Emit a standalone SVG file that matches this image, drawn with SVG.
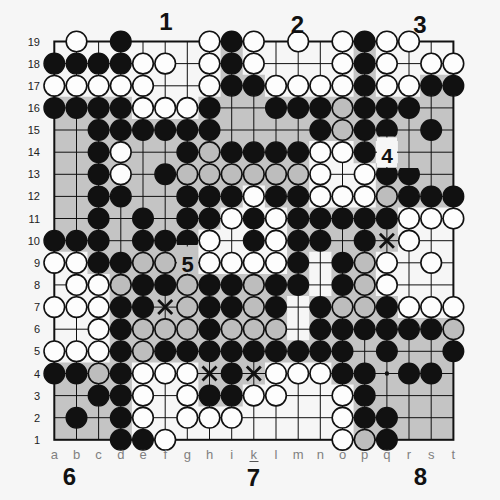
<svg xmlns="http://www.w3.org/2000/svg" width="500" height="500" viewBox="0 0 500 500">
<style>
.b{fill:#111;stroke:#111;stroke-width:1.4}
.w{fill:#fdfdfd;stroke:#111;stroke-width:1.6}
.g{fill:#bdbdbd;stroke:#111;stroke-width:1.6}
.grid{stroke:#111;stroke-width:1;fill:none}
.rn{font-family:"Liberation Sans",Arial,sans-serif;font-size:11px;fill:#222;text-anchor:end}
.cl{font-family:"Liberation Sans",Arial,sans-serif;font-size:13px;fill:#808080;text-anchor:middle}
.big{font-family:"Liberation Sans",Arial,sans-serif;font-weight:bold;fill:#111;text-anchor:middle}
.x{stroke:#111;stroke-width:2.8;fill:none}
</style>
<defs>
<clipPath id="cTop15"><rect x="370" y="110" width="35" height="26.5"/></clipPath>
<clipPath id="cTop10"><rect x="170" y="220" width="35" height="25"/></clipPath>
<clipPath id="cBot13"><rect x="370" y="168" width="55" height="20"/></clipPath>
</defs>
<rect x="0" y="0" width="500" height="500" fill="#f6f6f6"/>
<g id="shading">
<path fill="#c4c4c4" d="M220.6 41.5H242.7V96.8H220.6Z M242.7 74.7H264.9V96.8H242.7Z M353.6 41.5H375.8V96.8H353.6Z M420.1 74.7H453.4V96.8H420.1Z
M54.3 96.8H131.9V119H54.3Z M198.4 96.8H453.4V119H198.4Z
M54.3 119H453.4V141.1H54.3Z
M54.3 141.1H309.2V185.4H54.3Z M353.6 141.1H375.8V163.2H353.6Z M397.9 141.1H453.4V163.2H397.9Z M375.8 163.2H453.4V207.5H375.8Z
M54.3 185.4H242.7V207.5H54.3Z M264.9 185.4H309.2V207.5H264.9Z
M54.3 207.5H220.6V229.6H54.3Z M287.1 207.5H397.9V251.7H287.1Z
M54.3 229.6H198.4V251.7H54.3Z
M87.5 251.7H198.4V273.9H87.5Z M287.1 251.7H309.2V273.9H287.1Z M331.4 251.7H375.8V296H331.4Z
M109.7 273.9H309.2V296H109.7Z
M109.7 296H287.1V340.3H109.7Z M309.2 296H397.9V318.1H309.2Z M309.2 318.1H453.4V340.3H309.2Z
M109.7 340.3H453.4V362.4H109.7Z
M54.3 362.4H131.9V439.8H54.3Z M198.4 362.4H264.9V384.5H198.4Z M331.4 362.4H453.4V384.5H331.4Z
M198.4 384.5H242.7V406.6H198.4Z M353.6 384.5H453.4V439.8H353.6Z"/>
</g>
<g id="grid" class="grid">
<path d="M76.5 41.5V439.8M98.6 41.5V439.8M120.8 41.5V439.8M143 41.5V439.8M165.2 41.5V439.8M187.3 41.5V439.8M209.5 41.5V439.8M231.7 41.5V439.8M253.8 41.5V439.8M276 41.5V439.8M298.2 41.5V439.8M320.3 41.5V439.8M342.5 41.5V439.8M364.7 41.5V439.8M386.9 41.5V439.8M409 41.5V439.8M431.2 41.5V439.8
M54.3 63.6H453.4M54.3 85.8H453.4M54.3 107.9H453.4M54.3 130H453.4M54.3 152.2H453.4M54.3 174.3H453.4M54.3 196.4H453.4M54.3 218.5H453.4M54.3 240.7H453.4M54.3 262.8H453.4M54.3 284.9H453.4M54.3 307.1H453.4M54.3 329.2H453.4M54.3 351.3H453.4M54.3 373.5H453.4M54.3 395.6H453.4M54.3 417.7H453.4"/>
<rect x="54.3" y="41.5" width="399.1" height="398.3" stroke-width="2"/>
<circle cx="386.9" cy="373.5" r="2.2" fill="#111" stroke="none"/>
</g>
<g id="stones">
<!-- 19 -->
<circle class="w" cx="76.5" cy="41.5" r="10.3"/><circle class="b" cx="120.8" cy="41.5" r="10.3"/><circle class="w" cx="209.5" cy="41.5" r="10.3"/><circle class="b" cx="231.7" cy="41.5" r="10.3"/><circle class="w" cx="253.8" cy="41.5" r="10.3"/><circle class="w" cx="298.2" cy="41.5" r="10.3"/><circle class="w" cx="342.5" cy="41.5" r="10.3"/><circle class="b" cx="364.7" cy="41.5" r="10.3"/><circle class="w" cx="386.9" cy="41.5" r="10.3"/><circle class="w" cx="409" cy="41.5" r="10.3"/>
<!-- 18 -->
<circle class="b" cx="54.3" cy="63.6" r="10.3"/><circle class="b" cx="76.5" cy="63.6" r="10.3"/><circle class="b" cx="98.6" cy="63.6" r="10.3"/><circle class="b" cx="120.8" cy="63.6" r="10.3"/><circle class="w" cx="143" cy="63.6" r="10.3"/><circle class="w" cx="165.2" cy="63.6" r="10.3"/><circle class="w" cx="209.5" cy="63.6" r="10.3"/><circle class="b" cx="231.7" cy="63.6" r="10.3"/><circle class="w" cx="253.8" cy="63.6" r="10.3"/><circle class="w" cx="342.5" cy="63.6" r="10.3"/><circle class="b" cx="364.7" cy="63.6" r="10.3"/><circle class="w" cx="386.9" cy="63.6" r="10.3"/><circle class="w" cx="431.2" cy="63.6" r="10.3"/><circle class="w" cx="453.4" cy="63.6" r="10.3"/>
<!-- 17 -->
<circle class="w" cx="54.3" cy="85.8" r="10.3"/><circle class="w" cx="76.5" cy="85.8" r="10.3"/><circle class="w" cx="98.6" cy="85.8" r="10.3"/><circle class="w" cx="120.8" cy="85.8" r="10.3"/><circle class="w" cx="143" cy="85.8" r="10.3"/><circle class="w" cx="209.5" cy="85.8" r="10.3"/><circle class="b" cx="231.7" cy="85.8" r="10.3"/><circle class="b" cx="253.8" cy="85.8" r="10.3"/><circle class="w" cx="276" cy="85.8" r="10.3"/><circle class="w" cx="298.2" cy="85.8" r="10.3"/><circle class="w" cx="320.3" cy="85.8" r="10.3"/><circle class="w" cx="342.5" cy="85.8" r="10.3"/><circle class="b" cx="364.7" cy="85.8" r="10.3"/><circle class="w" cx="386.9" cy="85.8" r="10.3"/><circle class="w" cx="409" cy="85.8" r="10.3"/><circle class="b" cx="431.2" cy="85.8" r="10.3"/><circle class="b" cx="453.4" cy="85.8" r="10.3"/>
<!-- 16 -->
<circle class="b" cx="54.3" cy="107.9" r="10.3"/><circle class="b" cx="76.5" cy="107.9" r="10.3"/><circle class="b" cx="98.6" cy="107.9" r="10.3"/><circle class="b" cx="120.8" cy="107.9" r="10.3"/><circle class="w" cx="143" cy="107.9" r="10.3"/><circle class="w" cx="165.2" cy="107.9" r="10.3"/><circle class="w" cx="187.3" cy="107.9" r="10.3"/><circle class="b" cx="209.5" cy="107.9" r="10.3"/><circle class="b" cx="276" cy="107.9" r="10.3"/><circle class="b" cx="298.2" cy="107.9" r="10.3"/><circle class="b" cx="320.3" cy="107.9" r="10.3"/><circle class="g" cx="342.5" cy="107.9" r="10.3"/><circle class="b" cx="364.7" cy="107.9" r="10.3"/><circle class="b" cx="386.9" cy="107.9" r="10.3"/><circle class="b" cx="409" cy="107.9" r="10.3"/>
<!-- 15 -->
<circle class="b" cx="98.6" cy="130" r="10.3"/><circle class="b" cx="120.8" cy="130" r="10.3"/><circle class="b" cx="143" cy="130" r="10.3"/><circle class="b" cx="165.2" cy="130" r="10.3"/><circle class="b" cx="187.3" cy="130" r="10.3"/><circle class="b" cx="209.5" cy="130" r="10.3"/><circle class="b" cx="320.3" cy="130" r="10.3"/><circle class="g" cx="342.5" cy="130" r="10.3"/><circle class="b" cx="364.7" cy="130" r="10.3"/><circle class="b" cx="431.2" cy="130" r="10.3"/>
<!-- 14 -->
<circle class="b" cx="98.6" cy="152.2" r="10.3"/><circle class="w" cx="120.8" cy="152.2" r="10.3"/><circle class="b" cx="187.3" cy="152.2" r="10.3"/><circle class="g" cx="209.5" cy="152.2" r="10.3"/><circle class="b" cx="231.7" cy="152.2" r="10.3"/><circle class="b" cx="253.8" cy="152.2" r="10.3"/><circle class="b" cx="276" cy="152.2" r="10.3"/><circle class="b" cx="298.2" cy="152.2" r="10.3"/><circle class="w" cx="320.3" cy="152.2" r="10.3"/><circle class="w" cx="342.5" cy="152.2" r="10.3"/><circle class="b" cx="364.7" cy="152.2" r="10.3"/>
<!-- 13 -->
<circle class="b" cx="98.6" cy="174.3" r="10.3"/><circle class="w" cx="120.8" cy="174.3" r="10.3"/><circle class="b" cx="165.2" cy="174.3" r="10.3"/><circle class="g" cx="187.3" cy="174.3" r="10.3"/><circle class="g" cx="209.5" cy="174.3" r="10.3"/><circle class="g" cx="231.7" cy="174.3" r="10.3"/><circle class="g" cx="253.8" cy="174.3" r="10.3"/><circle class="g" cx="276" cy="174.3" r="10.3"/><circle class="g" cx="298.2" cy="174.3" r="10.3"/><circle class="w" cx="320.3" cy="174.3" r="10.3"/><circle class="w" cx="364.7" cy="174.3" r="10.3"/>
<!-- 12 -->
<circle class="b" cx="98.6" cy="196.4" r="10.3"/><circle class="b" cx="120.8" cy="196.4" r="10.3"/><circle class="b" cx="187.3" cy="196.4" r="10.3"/><circle class="b" cx="209.5" cy="196.4" r="10.3"/><circle class="b" cx="231.7" cy="196.4" r="10.3"/><circle class="w" cx="253.8" cy="196.4" r="10.3"/><circle class="b" cx="276" cy="196.4" r="10.3"/><circle class="b" cx="298.2" cy="196.4" r="10.3"/><circle class="w" cx="320.3" cy="196.4" r="10.3"/><circle class="w" cx="342.5" cy="196.4" r="10.3"/><circle class="w" cx="364.7" cy="196.4" r="10.3"/><circle class="g" cx="386.9" cy="196.4" r="10.3"/><circle class="b" cx="409" cy="196.4" r="10.3"/><circle class="b" cx="431.2" cy="196.4" r="10.3"/><circle class="b" cx="453.4" cy="196.4" r="10.3"/>
<!-- 11 -->
<circle class="b" cx="98.6" cy="218.5" r="10.3"/><circle class="b" cx="143" cy="218.5" r="10.3"/><circle class="b" cx="187.3" cy="218.5" r="10.3"/><circle class="b" cx="209.5" cy="218.5" r="10.3"/><circle class="w" cx="231.7" cy="218.5" r="10.3"/><circle class="b" cx="253.8" cy="218.5" r="10.3"/><circle class="w" cx="276" cy="218.5" r="10.3"/><circle class="b" cx="298.2" cy="218.5" r="10.3"/><circle class="b" cx="320.3" cy="218.5" r="10.3"/><circle class="b" cx="342.5" cy="218.5" r="10.3"/><circle class="b" cx="364.7" cy="218.5" r="10.3"/><circle class="b" cx="386.9" cy="218.5" r="10.3"/><circle class="w" cx="409" cy="218.5" r="10.3"/><circle class="w" cx="431.2" cy="218.5" r="10.3"/><circle class="w" cx="453.4" cy="218.5" r="10.3"/>
<!-- 10 -->
<circle class="b" cx="54.3" cy="240.7" r="10.3"/><circle class="b" cx="76.5" cy="240.7" r="10.3"/><circle class="b" cx="98.6" cy="240.7" r="10.3"/><circle class="b" cx="143" cy="240.7" r="10.3"/><circle class="b" cx="165.2" cy="240.7" r="10.3"/><circle class="w" cx="209.5" cy="240.7" r="10.3"/><circle class="b" cx="253.8" cy="240.7" r="10.3"/><circle class="w" cx="276" cy="240.7" r="10.3"/><circle class="b" cx="298.2" cy="240.7" r="10.3"/><circle class="b" cx="320.3" cy="240.7" r="10.3"/><circle class="b" cx="364.7" cy="240.7" r="10.3"/><circle class="w" cx="409" cy="240.7" r="10.3"/>
<!-- 9 -->
<circle class="w" cx="54.3" cy="262.8" r="10.3"/><circle class="w" cx="76.5" cy="262.8" r="10.3"/><circle class="b" cx="98.6" cy="262.8" r="10.3"/><circle class="b" cx="120.8" cy="262.8" r="10.3"/><circle class="g" cx="143" cy="262.8" r="10.3"/><circle class="g" cx="165.2" cy="262.8" r="10.3"/><circle class="w" cx="209.5" cy="262.8" r="10.3"/><circle class="w" cx="231.7" cy="262.8" r="10.3"/><circle class="w" cx="253.8" cy="262.8" r="10.3"/><circle class="w" cx="276" cy="262.8" r="10.3"/><circle class="b" cx="298.2" cy="262.8" r="10.3"/><circle class="b" cx="342.5" cy="262.8" r="10.3"/><circle class="g" cx="364.7" cy="262.8" r="10.3"/><circle class="w" cx="386.9" cy="262.8" r="10.3"/><circle class="w" cx="431.2" cy="262.8" r="10.3"/>
<!-- 8 -->
<circle class="w" cx="76.5" cy="284.9" r="10.3"/><circle class="w" cx="98.6" cy="284.9" r="10.3"/><circle class="g" cx="120.8" cy="284.9" r="10.3"/><circle class="b" cx="143" cy="284.9" r="10.3"/><circle class="b" cx="165.2" cy="284.9" r="10.3"/><circle class="g" cx="187.3" cy="284.9" r="10.3"/><circle class="b" cx="209.5" cy="284.9" r="10.3"/><circle class="b" cx="231.7" cy="284.9" r="10.3"/><circle class="g" cx="253.8" cy="284.9" r="10.3"/><circle class="b" cx="276" cy="284.9" r="10.3"/><circle class="b" cx="298.2" cy="284.9" r="10.3"/><circle class="b" cx="342.5" cy="284.9" r="10.3"/><circle class="g" cx="364.7" cy="284.9" r="10.3"/><circle class="w" cx="386.9" cy="284.9" r="10.3"/>
<!-- 7 -->
<circle class="w" cx="54.3" cy="307.1" r="10.3"/><circle class="w" cx="76.5" cy="307.1" r="10.3"/><circle class="w" cx="98.6" cy="307.1" r="10.3"/><circle class="b" cx="120.8" cy="307.1" r="10.3"/><circle class="b" cx="143" cy="307.1" r="10.3"/><circle class="g" cx="187.3" cy="307.1" r="10.3"/><circle class="b" cx="209.5" cy="307.1" r="10.3"/><circle class="b" cx="231.7" cy="307.1" r="10.3"/><circle class="g" cx="253.8" cy="307.1" r="10.3"/><circle class="b" cx="276" cy="307.1" r="10.3"/><circle class="b" cx="320.3" cy="307.1" r="10.3"/><circle class="g" cx="342.5" cy="307.1" r="10.3"/><circle class="g" cx="364.7" cy="307.1" r="10.3"/><circle class="b" cx="386.9" cy="307.1" r="10.3"/><circle class="w" cx="409" cy="307.1" r="10.3"/><circle class="w" cx="431.2" cy="307.1" r="10.3"/><circle class="w" cx="453.4" cy="307.1" r="10.3"/>
<!-- 6 -->
<circle class="w" cx="98.6" cy="329.2" r="10.3"/><circle class="b" cx="120.8" cy="329.2" r="10.3"/><circle class="g" cx="143" cy="329.2" r="10.3"/><circle class="g" cx="165.2" cy="329.2" r="10.3"/><circle class="g" cx="187.3" cy="329.2" r="10.3"/><circle class="b" cx="209.5" cy="329.2" r="10.3"/><circle class="g" cx="231.7" cy="329.2" r="10.3"/><circle class="g" cx="253.8" cy="329.2" r="10.3"/><circle class="g" cx="276" cy="329.2" r="10.3"/><circle class="b" cx="320.3" cy="329.2" r="10.3"/><circle class="b" cx="342.5" cy="329.2" r="10.3"/><circle class="b" cx="364.7" cy="329.2" r="10.3"/><circle class="b" cx="386.9" cy="329.2" r="10.3"/><circle class="b" cx="409" cy="329.2" r="10.3"/><circle class="b" cx="431.2" cy="329.2" r="10.3"/><circle class="g" cx="453.4" cy="329.2" r="10.3"/>
<!-- 5 -->
<circle class="w" cx="54.3" cy="351.3" r="10.3"/><circle class="w" cx="76.5" cy="351.3" r="10.3"/><circle class="w" cx="98.6" cy="351.3" r="10.3"/><circle class="b" cx="120.8" cy="351.3" r="10.3"/><circle class="g" cx="143" cy="351.3" r="10.3"/><circle class="b" cx="165.2" cy="351.3" r="10.3"/><circle class="b" cx="187.3" cy="351.3" r="10.3"/><circle class="b" cx="209.5" cy="351.3" r="10.3"/><circle class="b" cx="231.7" cy="351.3" r="10.3"/><circle class="b" cx="253.8" cy="351.3" r="10.3"/><circle class="b" cx="276" cy="351.3" r="10.3"/><circle class="b" cx="298.2" cy="351.3" r="10.3"/><circle class="b" cx="320.3" cy="351.3" r="10.3"/><circle class="b" cx="342.5" cy="351.3" r="10.3"/><circle class="b" cx="386.9" cy="351.3" r="10.3"/><circle class="b" cx="453.4" cy="351.3" r="10.3"/>
<!-- 4 -->
<circle class="b" cx="54.3" cy="373.5" r="10.3"/><circle class="b" cx="76.5" cy="373.5" r="10.3"/><circle class="g" cx="98.6" cy="373.5" r="10.3"/><circle class="b" cx="120.8" cy="373.5" r="10.3"/><circle class="w" cx="143" cy="373.5" r="10.3"/><circle class="w" cx="165.2" cy="373.5" r="10.3"/><circle class="w" cx="187.3" cy="373.5" r="10.3"/><circle class="b" cx="231.7" cy="373.5" r="10.3"/><circle class="w" cx="276" cy="373.5" r="10.3"/><circle class="w" cx="298.2" cy="373.5" r="10.3"/><circle class="w" cx="320.3" cy="373.5" r="10.3"/><circle class="b" cx="342.5" cy="373.5" r="10.3"/><circle class="b" cx="364.7" cy="373.5" r="10.3"/><circle class="b" cx="409" cy="373.5" r="10.3"/><circle class="b" cx="431.2" cy="373.5" r="10.3"/>
<!-- 3 -->
<circle class="b" cx="98.6" cy="395.6" r="10.3"/><circle class="b" cx="120.8" cy="395.6" r="10.3"/><circle class="w" cx="143" cy="395.6" r="10.3"/><circle class="w" cx="187.3" cy="395.6" r="10.3"/><circle class="b" cx="209.5" cy="395.6" r="10.3"/><circle class="b" cx="231.7" cy="395.6" r="10.3"/><circle class="w" cx="253.8" cy="395.6" r="10.3"/><circle class="w" cx="276" cy="395.6" r="10.3"/><circle class="w" cx="342.5" cy="395.6" r="10.3"/><circle class="b" cx="364.7" cy="395.6" r="10.3"/>
<!-- 2 -->
<circle class="b" cx="76.5" cy="417.7" r="10.3"/><circle class="b" cx="120.8" cy="417.7" r="10.3"/><circle class="w" cx="143" cy="417.7" r="10.3"/><circle class="w" cx="187.3" cy="417.7" r="10.3"/><circle class="w" cx="209.5" cy="417.7" r="10.3"/><circle class="w" cx="231.7" cy="417.7" r="10.3"/><circle class="w" cx="342.5" cy="417.7" r="10.3"/><circle class="b" cx="364.7" cy="417.7" r="10.3"/><circle class="b" cx="386.9" cy="417.7" r="10.3"/>
<!-- 1 -->
<circle class="b" cx="120.8" cy="439.8" r="10.3"/><circle class="b" cx="143" cy="439.8" r="10.3"/><circle class="w" cx="165.2" cy="439.8" r="10.3"/><circle class="w" cx="342.5" cy="439.8" r="10.3"/><circle class="g" cx="364.7" cy="439.8" r="10.3"/><circle class="b" cx="386.9" cy="439.8" r="10.3"/>
<!-- cut stones -->
<circle class="b" cx="386.9" cy="130" r="10.3" clip-path="url(#cTop15)"/>
<circle class="b" cx="187.3" cy="240.7" r="10.3" clip-path="url(#cTop10)"/>
<circle class="b" cx="386.9" cy="174.3" r="10.3" clip-path="url(#cBot13)"/>
<circle class="b" cx="409" cy="174.3" r="10.3" clip-path="url(#cBot13)"/>
</g>
<g id="marks">
<path class="x" d="M158.2 300.1L172.2 314.1M172.2 300.1L158.2 314.1"/>
<path class="x" d="M202.5 366.5L216.5 380.5M216.5 366.5L202.5 380.5"/>
<path class="x" d="M246.8 366.5L260.8 380.5M260.8 366.5L246.8 380.5"/>
<path class="x" d="M379.9 233.7L393.9 247.7M393.9 233.7L379.9 247.7"/>
</g>
<g id="move-labels">
<rect x="377" y="137.5" width="20" height="29.5" fill="#f6f6f6"/>
<text class="big" x="387" y="163" font-size="21">4</text>
<rect x="177" y="246.5" width="21" height="27" fill="#c4c4c4"/>
<text class="big" x="187.5" y="272" font-size="22">5</text>
</g>
<g id="row-labels">
<text class="rn" x="40" y="45.5">19</text><text class="rn" x="40" y="67.6">18</text><text class="rn" x="40" y="89.8">17</text><text class="rn" x="40" y="111.9">16</text><text class="rn" x="40" y="134">15</text><text class="rn" x="40" y="156.2">14</text><text class="rn" x="40" y="178.3">13</text><text class="rn" x="40" y="200.4">12</text><text class="rn" x="40" y="222.5">11</text><text class="rn" x="40" y="244.7">10</text><text class="rn" x="40" y="266.8">9</text><text class="rn" x="40" y="288.9">8</text><text class="rn" x="40" y="311.1">7</text><text class="rn" x="40" y="333.2">6</text><text class="rn" x="40" y="355.3">5</text><text class="rn" x="40" y="377.5">4</text><text class="rn" x="40" y="399.6">3</text><text class="rn" x="40" y="421.7">2</text><text class="rn" x="40" y="443.8">1</text>
</g>
<g id="col-labels">
<text class="cl" x="54.3" y="459">a</text><text class="cl" x="76.5" y="459">b</text><text class="cl" x="98.6" y="459">c</text><text class="cl" x="120.8" y="459">d</text><text class="cl" x="143" y="459">e</text><text class="cl" x="165.2" y="459">f</text><text class="cl" x="187.3" y="459">g</text><text class="cl" x="209.5" y="459">h</text><text class="cl" x="231.7" y="459">i</text><text class="cl" x="253.8" y="459">k</text><text class="cl" x="276" y="459">l</text><text class="cl" x="298.2" y="459">m</text><text class="cl" x="320.3" y="459">n</text><text class="cl" x="342.5" y="459">o</text><text class="cl" x="364.7" y="459">p</text><text class="cl" x="386.9" y="459">q</text><text class="cl" x="409" y="459">r</text><text class="cl" x="431.2" y="459">s</text><text class="cl" x="453.4" y="459">t</text>
<line x1="249.5" y1="461.5" x2="258.5" y2="461.5" stroke="#555" stroke-width="1"/>
</g>
<g id="section-numbers">
<text class="big" x="166" y="30" font-size="24">1</text>
<text class="big" x="297.5" y="33" font-size="24">2</text>
<text class="big" x="420" y="32.5" font-size="24">3</text>
<text class="big" x="69.5" y="485" font-size="24">6</text>
<text class="big" x="253.5" y="486" font-size="24">7</text>
<text class="big" x="420.5" y="485" font-size="24">8</text>
</g>
</svg>
